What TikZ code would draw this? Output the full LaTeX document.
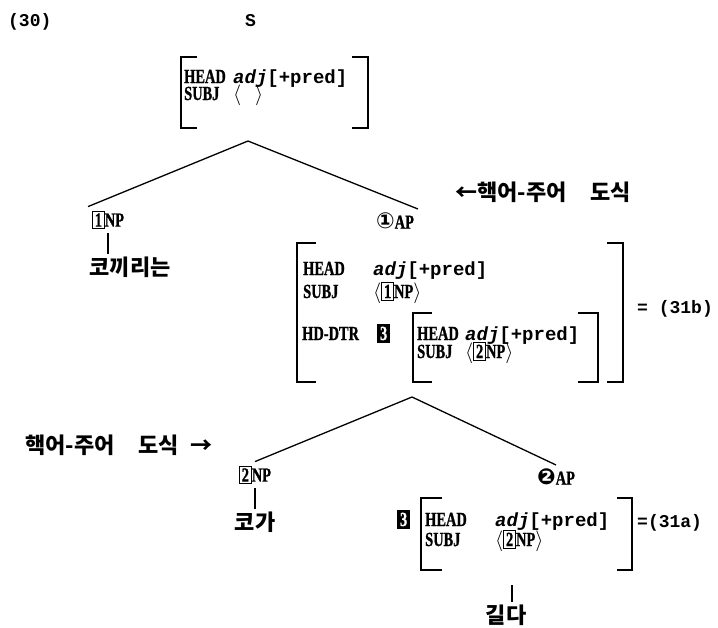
\documentclass[tikz,border=0pt]{standalone}
\usepackage{fontspec}
\setmainfont{Liberation Serif}
\setmonofont{Liberation Mono}
\newfontfamily\condfont{Liberation Serif}[FakeStretch=0.72,FakeBold=1]
\newfontfamily\korfont{Noto Sans CJK KR}
\newfontfamily\circfont{DejaVu Sans}
\newcommand{\boxtag}[1]{{\setlength{\fboxsep}{1.8pt}\setlength{\fboxrule}{1pt}\fbox{#1}}}
\newcommand{\darktag}[1]{{\setlength{\fboxsep}{1.8pt}\setlength{\fboxrule}{1pt}\fcolorbox{black}{black}{\textcolor{white}{#1}}}}
\newcommand{\predval}{{\fontsize{19}{19}\selectfont\ttfamily\itshape adj}{\fontsize{19}{19}\selectfont\ttfamily[+pred]}}
\newcommand{\lst}[1]{$\langle$#1$\rangle$}

\begin{document}
\begin{tikzpicture}[x=1pt,y=-1pt,
  feat/.style={anchor=base west,inner sep=0pt,font=\condfont\bfseries\fontsize{20}{20}\selectfont},
  cat/.style={inner sep=3pt,outer sep=1pt,font=\condfont\bfseries\fontsize{20}{20}\selectfont},
  mono/.style={anchor=base west,inner sep=0pt,font=\ttfamily\bfseries\fontsize{18}{18}\selectfont},
  kor/.style={inner sep=2pt,font=\korfont\bfseries\fontsize{22}{22}\selectfont},
  bracket/.style={line width=1.6pt},
  branch/.style={line width=1.3pt}]
\useasboundingbox (0,0) rectangle (718,627);
% heading
\node[mono] (exno) at (8,26) {(30)};
\node[mono] (root) at (245,26) {S};
% S: top AVM
\draw[bracket] (197,57) -- (181,57) -- (181,128) -- (197,128);
\draw[bracket] (352,57) -- (368,57) -- (368,128) -- (352,128);
\node[feat] (s-head) at (184,83) {HEAD};
\node[feat] (s-headval) at (233,83) {\predval};
\node[feat] (s-subj) at (184,100) {SUBJ};
\node[feat] (s-subjval) at (233,100) {\lst{\hspace{14pt}}};
% upper branches
\coordinate (s-apex) at (248,141);
\node[cat] (np1) at (108,220) {\boxtag{1}NP};
\node[cat] (ap1) at (395,221) {{\circfont\fontsize{22}{22}\selectfont ①}AP};
\draw[branch] (s-apex) -- (np1.north west);
\draw[branch] (s-apex) -- (ap1.north east);
\node[kor,anchor=west] (rule-up) at (453,192) {←핵어-주어\hspace{24pt}도식};
\node[kor] (kokkiri) at (130,267) {코끼리는};
\draw[branch] (np1.south) -- (np1.south |- kokkiri.north);
% AP: middle AVM with its head daughter
\draw[bracket] (316,243) -- (297,243) -- (297,382) -- (316,382);
\draw[bracket] (607,243) -- (623,243) -- (623,382) -- (607,382);
\node[feat] (a1-head) at (303,275) {HEAD};
\node[feat] (a1-headval) at (373,275) {\predval};
\node[feat] (a1-subj) at (303,298) {SUBJ};
\node[feat] (a1-subjval) at (373,298) {\lst{\boxtag{1}NP}};
\node[feat] (a1-dtr) at (302,340) {HD-DTR};
\node[feat] (a1-tag) at (377,340) {\darktag{3}};
\draw[bracket] (432,313) -- (413,313) -- (413,382) -- (432,382);
\draw[bracket] (578,313) -- (598,313) -- (598,382) -- (578,382);
\node[feat] (d-head) at (417,340) {HEAD};
\node[feat] (d-headval) at (465,340) {\predval};
\node[feat] (d-subj) at (417,358) {SUBJ};
\node[feat] (d-subjval) at (465,358) {\lst{\boxtag{2}NP}};
\node[mono] (eq-b) at (637,313) {= (31b)};
% lower branches
\coordinate (a1-apex) at (412,397);
\node[cat] (np2) at (255,475) {\boxtag{2}NP};
\node[cat] (ap2) at (556,477) {{\circfont\fontsize{22}{22}\selectfont ❷}AP};
\draw[branch] (a1-apex) -- (np2.north);
\draw[branch] (a1-apex) -- (ap2.north);
\node[kor,anchor=west] (rule-down) at (23,445) {핵어-주어\hspace{24pt}도식\enspace →};
\node[kor] (koga) at (255,522) {코가};
\draw[branch] (np2.south) -- (np2.south |- koga.north);
% bottom AVM
\node[feat] (a2-tag) at (397,526) {\darktag{3}};
\draw[bracket] (442,498) -- (421,498) -- (421,570) -- (442,570);
\draw[bracket] (617,498) -- (632,498) -- (632,570) -- (617,570);
\node[feat] (a2-head) at (425,526) {HEAD};
\node[feat] (a2-headval) at (495,526) {\predval};
\node[feat] (a2-subj) at (425,546) {SUBJ};
\node[feat] (a2-subjval) at (495,546) {\lst{\boxtag{2}NP}};
\node[mono] (eq-a) at (637,527) {=(31a)};
\coordinate (a2-foot) at (512,585);
\node[kor] (gilda) at (506,615) {길다};
\draw[branch] (a2-foot) -- (a2-foot |- gilda.north);
\end{tikzpicture}
\end{document}
